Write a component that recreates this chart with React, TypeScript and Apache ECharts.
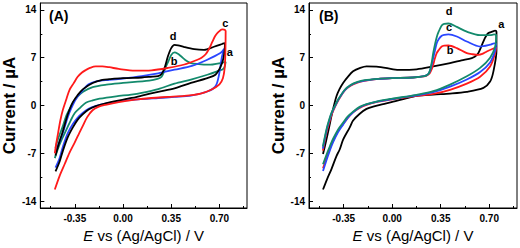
import React, { useEffect, useRef } from "react";
import * as echarts from "echarts";

type P = [number, number][];

// Panel (A) curves: potential E (V), current I (µA); lower branch left→right then upper branch right→left
const aCurveC: P = [
  [-0.495, -12.3], [-0.46, -10.3], [-0.424, -8.6], [-0.388, -6.9], [-0.35, -5.4], [-0.317, -4.0], [-0.29, -2.9],
  [-0.26, -1.7], [-0.221, -0.7], [-0.18, -0.2], [-0.127, 0.1], [-0.031, 0.5], [0.088, 0.85], [0.207, 1.1],
  [0.326, 1.25], [0.445, 1.4], [0.564, 1.75], [0.64, 2.3], [0.7, 3.1], [0.725, 4.0], [0.738, 5.5], [0.743, 7.7],
  [0.745, 10.9], [0.735, 11.1], [0.719, 11.15], [0.695, 10.8], [0.67, 10.2], [0.648, 9.3], [0.625, 8.3],
  [0.6, 7.5], [0.57, 7.0], [0.54, 6.7], [0.445, 6.0], [0.326, 5.5], [0.207, 5.15], [0.088, 5.1], [-0.031, 5.35],
  [-0.1, 5.6], [-0.15, 5.72], [-0.198, 5.72], [-0.24, 5.5], [-0.269, 5.2], [-0.3, 4.8], [-0.329, 4.2],
  [-0.36, 3.2], [-0.388, 2.3], [-0.41, 1.0], [-0.436, -0.6], [-0.455, -2.2], [-0.471, -4.0], [-0.485, -5.6],
  [-0.495, -7.0],
];
const aCurveD: P = [
  [-0.49, -9.65], [-0.46, -8.2], [-0.436, -6.6], [-0.4, -4.6], [-0.364, -3.2], [-0.33, -2.1], [-0.293, -1.3],
  [-0.25, -0.6], [-0.198, -0.1], [-0.12, 0.35], [-0.055, 0.63], [0.064, 1.1], [0.136, 1.45], [0.255, 2.0],
  [0.374, 2.5], [0.493, 3.3], [0.612, 4.0], [0.671, 4.5], [0.707, 5.6], [0.73, 7.0], [0.74, 9.0],
  [0.736, 9.12], [0.719, 9.0], [0.66, 8.6], [0.588, 8.15], [0.517, 8.25], [0.445, 8.55], [0.4, 8.8],
  [0.374, 8.88], [0.35, 8.4], [0.326, 7.2], [0.302, 5.5], [0.28, 4.6], [0.255, 4.3], [0.2, 4.2], [0.136, 4.1],
  [0.0, 4.0], [-0.1, 3.85], [-0.15, 3.75], [-0.22, 3.3], [-0.29, 2.4], [-0.33, 1.5], [-0.364, 0.5],
  [-0.39, -0.7], [-0.412, -2.0], [-0.44, -4.0], [-0.46, -5.2], [-0.49, -7.3],
];
const aCurveA: P = [
  [-0.49, -9.1], [-0.46, -7.7], [-0.436, -6.0], [-0.4, -4.0], [-0.364, -2.7], [-0.33, -1.8], [-0.293, -1.1],
  [-0.25, -0.5], [-0.2, -0.1], [-0.12, 0.3], [0.0, 0.7], [0.136, 0.95], [0.255, 1.1], [0.374, 1.25],
  [0.493, 1.45], [0.612, 2.05], [0.671, 2.8], [0.695, 4.3], [0.719, 7.2], [0.735, 8.3],
  [0.707, 7.67], [0.612, 6.7], [0.5, 5.8], [0.374, 5.24], [0.255, 4.7], [0.136, 4.3], [0.0, 3.95],
  [-0.1, 3.75], [-0.2, 3.5], [-0.25, 3.1], [-0.29, 2.3], [-0.33, 1.3], [-0.364, 0.1], [-0.39, -1.1],
  [-0.412, -2.4], [-0.44, -4.2], [-0.465, -5.5], [-0.49, -6.8],
];
const aCurveB: P = [
  [-0.495, -7.7], [-0.47, -6.2], [-0.45, -5.2], [-0.41, -3.5], [-0.38, -2.2], [-0.35, -1.1], [-0.31, -0.3],
  [-0.27, 0.4], [-0.22, 0.75], [-0.17, 1.0], [-0.05, 1.35], [0.06, 1.6], [0.136, 1.85], [0.255, 2.4],
  [0.374, 3.2], [0.493, 3.8], [0.612, 4.5], [0.683, 5.0], [0.73, 5.4], [0.745, 6.4],
  [0.707, 6.2], [0.65, 6.0], [0.612, 5.97], [0.55, 6.05], [0.493, 6.2], [0.45, 6.7], [0.421, 7.2],
  [0.395, 7.6], [0.374, 7.76], [0.35, 7.4], [0.33, 6.5], [0.314, 5.8], [0.295, 4.8], [0.279, 4.2],
  [0.25, 3.9], [0.19, 3.65], [0.0, 3.3], [-0.12, 3.06], [-0.22, 2.7], [-0.29, 2.0], [-0.33, 1.3],
  [-0.364, 0.4], [-0.39, -0.6], [-0.412, -1.5], [-0.44, -3.2], [-0.47, -4.8], [-0.49, -6.2],
];

// Panel (B) curves
const bCurveA: P = [
  [-0.499, -12.3], [-0.47, -10.8], [-0.438, -9.3], [-0.402, -7.4], [-0.378, -6.4], [-0.354, -5.0],
  [-0.306, -3.2], [-0.282, -2.2], [-0.234, -1.2], [-0.185, -0.5], [-0.137, -0.15], [-0.065, 0.2],
  [0.007, 0.55], [0.1, 1.05], [0.176, 1.4], [0.296, 1.6], [0.417, 1.75], [0.538, 2.0], [0.658, 2.57],
  [0.706, 3.5], [0.73, 5.0], [0.752, 8.0], [0.752, 10.8], [0.742, 10.95], [0.72, 10.8], [0.694, 10.6],
  [0.675, 10.1], [0.658, 9.4], [0.64, 8.5], [0.622, 7.7], [0.6, 7.2], [0.574, 6.94], [0.5, 6.6],
  [0.417, 6.2], [0.296, 5.72], [0.176, 5.3], [0.056, 5.2], [0.007, 5.3], [-0.113, 5.7], [-0.185, 5.72],
  [-0.23, 5.5], [-0.282, 5.0], [-0.32, 4.2], [-0.354, 3.3], [-0.38, 2.4], [-0.402, 1.36], [-0.42, 0.0],
  [-0.438, -1.56], [-0.455, -3.2], [-0.474, -4.95], [-0.499, -7.1],
];
const bCurveB: P = [
  [-0.499, -9.2], [-0.474, -7.7], [-0.45, -6.3], [-0.427, -5.2], [-0.39, -3.7], [-0.354, -2.7], [-0.32, -1.8],
  [-0.282, -1.0], [-0.235, -0.35], [-0.185, 0.1], [-0.1, 0.55], [0.0, 0.9], [0.1, 1.2], [0.176, 1.4],
  [0.296, 1.7], [0.417, 2.3], [0.538, 3.2], [0.634, 4.2], [0.706, 5.7], [0.742, 7.6], [0.75, 8.5],
  [0.742, 8.45], [0.682, 7.9], [0.65, 7.55], [0.622, 7.42], [0.58, 7.5], [0.538, 7.67], [0.466, 8.4],
  [0.405, 8.78], [0.375, 8.75], [0.357, 8.63], [0.335, 8.1], [0.321, 7.67], [0.308, 6.9], [0.296, 6.0],
  [0.285, 5.3], [0.27, 4.7], [0.25, 4.4], [0.23, 4.25], [0.15, 4.1], [0.0, 4.0], [-0.1, 3.9], [-0.2, 3.6],
  [-0.25, 3.35], [-0.3, 2.9], [-0.342, 2.2], [-0.39, 0.7], [-0.41, -0.1], [-0.438, -1.4], [-0.455, -2.6],
  [-0.474, -4.0], [-0.5, -6.6],
];
const bCurveC: P = [
  [-0.499, -9.6], [-0.474, -8.0], [-0.45, -6.6], [-0.427, -5.4], [-0.39, -3.9], [-0.354, -2.8], [-0.32, -1.8],
  [-0.282, -1.0], [-0.235, -0.3], [-0.185, 0.15], [-0.1, 0.6], [0.0, 0.95], [0.1, 1.25], [0.176, 1.5],
  [0.296, 1.95], [0.417, 2.75], [0.538, 3.8], [0.634, 4.9], [0.706, 6.3], [0.742, 8.0], [0.75, 9.1],
  [0.735, 9.1], [0.706, 8.9], [0.634, 8.63], [0.538, 9.36], [0.466, 10.1], [0.405, 10.4], [0.375, 10.35],
  [0.357, 10.2], [0.335, 9.7], [0.321, 9.1], [0.308, 8.0], [0.296, 7.0], [0.285, 6.0], [0.273, 5.1],
  [0.26, 4.6], [0.23, 4.3], [0.15, 4.1], [0.0, 4.0], [-0.1, 3.9], [-0.2, 3.65], [-0.25, 3.4], [-0.3, 2.95],
  [-0.342, 2.25], [-0.39, 0.8], [-0.41, 0.0], [-0.438, -1.2], [-0.455, -2.3], [-0.474, -3.7], [-0.5, -6.3],
];
const bCurveD: P = [
  [-0.499, -8.6], [-0.474, -7.2], [-0.45, -6.0], [-0.427, -4.9], [-0.39, -3.5], [-0.354, -2.5], [-0.32, -1.6],
  [-0.282, -0.9], [-0.235, -0.2], [-0.185, 0.2], [-0.1, 0.65], [0.0, 1.0], [0.1, 1.3], [0.176, 1.55],
  [0.296, 2.1], [0.417, 3.06], [0.538, 4.27], [0.634, 5.5], [0.706, 7.0], [0.742, 8.6], [0.75, 10.3],
  [0.735, 10.4], [0.706, 10.3], [0.634, 10.3], [0.538, 10.8], [0.466, 11.5], [0.405, 12.0], [0.375, 11.95],
  [0.357, 11.7], [0.335, 10.8], [0.321, 10.0], [0.308, 8.9], [0.296, 7.7], [0.285, 6.3], [0.273, 5.2],
  [0.26, 4.6], [0.23, 4.3], [0.15, 4.1], [0.0, 4.0], [-0.1, 3.9], [-0.2, 3.7], [-0.25, 3.45], [-0.3, 3.0],
  [-0.342, 2.3], [-0.39, 0.87], [-0.41, 0.1], [-0.438, -1.07], [-0.455, -2.1], [-0.474, -3.5], [-0.5, -6.0],
];

// Curve label anchors (data coordinates)
const aLabels: { name: string; coord: [number, number] }[] = [
  { name: "d", coord: [0.364, 10.2] },
  { name: "c", coord: [0.743, 12.1] },
  { name: "a", coord: [0.775, 7.8] },
  { name: "b", coord: [0.371, 6.45] },
];
const bLabels: { name: string; coord: [number, number] }[] = [
  { name: "d", coord: [0.41, 13.9] },
  { name: "c", coord: [0.41, 11.55] },
  { name: "b", coord: [0.417, 8.15] },
  { name: "a", coord: [0.786, 12.0] },
];

const xTicks = [-0.35, 0, 0.35, 0.7];
const xMinor = [-0.525, -0.175, 0.175, 0.525, 0.875];
const yTicks = [-14, -7, 0, 7, 14];
const yMinor = [-10.5, -3.5, 3.5, 10.5];
const X_MIN = -0.6, X_MAX = 0.9, Y_MIN = -15, Y_MAX = 15;

const RED = "#ff1a1a";
const BLACK = "#000000";
const BLUE = "#2a46ff";
const GREEN = "#138a6c";
const FONT = '"Liberation Sans", Arial, Helvetica, sans-serif';

export default function App() {
  const ref = useRef<HTMLDivElement>(null);
  useEffect(() => {
    if (!ref.current) return;
    const chart = echarts.init(ref.current, null, { renderer: "svg" });

    const grids = [
      { left: 37, top: 3, width: 210, height: 206 },
      { left: 309, top: 3, width: 208, height: 206 },
    ];
    const xAxes: any[] = [];
    const yAxes: any[] = [];
    const yGaps = [21, 18];
    grids.forEach((_, gi) => {
      xAxes.push({
        type: "value", gridIndex: gi, min: X_MIN, max: X_MAX, position: "bottom",
        axisLine: { show: true, onZero: false, lineStyle: { color: "#000", width: 1 } },
        axisTick: { show: true, inside: true, length: 4, customValues: xTicks, lineStyle: { color: "#000" } },
        axisLabel: {
          customValues: xTicks, margin: 5, color: "#000", fontWeight: "bold", fontSize: 10, fontFamily: FONT,
          formatter: (v: number) => v.toFixed(2),
        },
        splitLine: { show: false },
        name: "{i|E} vs (Ag/AgCl) / V", nameLocation: "middle", nameGap: 20,
        nameTextStyle: {
          color: "#000", fontSize: 15, fontFamily: FONT,
          rich: { i: { fontStyle: "italic", fontSize: 15, fontFamily: FONT, color: "#000" } },
        },
      });
      xAxes.push({
        type: "value", gridIndex: gi, min: X_MIN, max: X_MAX, position: "bottom",
        axisLine: { show: false, onZero: false },
        axisTick: { show: true, inside: true, length: 2, customValues: xMinor, lineStyle: { color: "#000" } },
        axisLabel: { show: false }, splitLine: { show: false },
      });
      yAxes.push({
        type: "value", gridIndex: gi, min: Y_MIN, max: Y_MAX, position: "left",
        axisLine: { show: true, onZero: false, lineStyle: { color: "#000", width: 1 } },
        axisTick: { show: true, inside: true, length: 4, customValues: yTicks, lineStyle: { color: "#000" } },
        axisLabel: { customValues: yTicks, margin: 4, color: "#000", fontWeight: "bold", fontSize: 10, fontFamily: FONT },
        splitLine: { show: false },
        name: "Current / µA", nameLocation: "middle", nameGap: yGaps[gi], nameRotate: 90,
        nameTextStyle: { color: "#000", fontSize: 17, fontWeight: "bold", fontFamily: FONT },
      });
      yAxes.push({
        type: "value", gridIndex: gi, min: Y_MIN, max: Y_MAX, position: "left",
        axisLine: { show: false, onZero: false },
        axisTick: { show: true, inside: true, length: 2, customValues: yMinor, lineStyle: { color: "#000" } },
        axisLabel: { show: false }, splitLine: { show: false },
      });
    });

    const line = (data: P, color: string, gi: number, labels?: { name: string; coord: [number, number] }[]) => ({
      type: "line", data, xAxisIndex: gi * 2, yAxisIndex: gi * 2, showSymbol: false, symbol: "none",
      smooth: 0.3, lineStyle: { color, width: 1.8 }, itemStyle: { color }, z: 3,
      markPoint: labels
        ? {
            symbol: "circle", symbolSize: 1, silent: true,
            itemStyle: { color: "rgba(0,0,0,0)" },
            label: {
              show: true, position: "inside", formatter: "{b}", color: "#000",
              fontWeight: "bold", fontSize: 11, fontFamily: FONT,
            },
            data: labels,
          }
        : undefined,
    });

    chart.setOption({
      animation: false,
      backgroundColor: "#fff",
      grid: grids.map((g) => ({ ...g, show: true, borderColor: "#000", borderWidth: 1, backgroundColor: "transparent" })),
      xAxis: xAxes,
      yAxis: yAxes,
      graphic: [
        { type: "text", left: 49, top: 9, style: { text: "(A)", fill: "#000", font: `bold 14px ${FONT}` } },
        { type: "text", left: 319, top: 9, style: { text: "(B)", fill: "#000", font: `bold 14px ${FONT}` } },
      ],
      series: [
        line(aCurveB, GREEN, 0),
        line(aCurveA, BLUE, 0),
        line(aCurveD, BLACK, 0),
        line(aCurveC, RED, 0, aLabels),
        line(bCurveA, BLACK, 1),
        line(bCurveB, RED, 1),
        line(bCurveC, BLUE, 1),
        line(bCurveD, GREEN, 1, bLabels),
      ],
    });
    return () => chart.dispose();
  }, []);

  return (
    <div
      ref={ref}
      style={{ position: "fixed", left: 0, top: 0, width: 520, height: 248, background: "#fff" }}
    />
  );
}
